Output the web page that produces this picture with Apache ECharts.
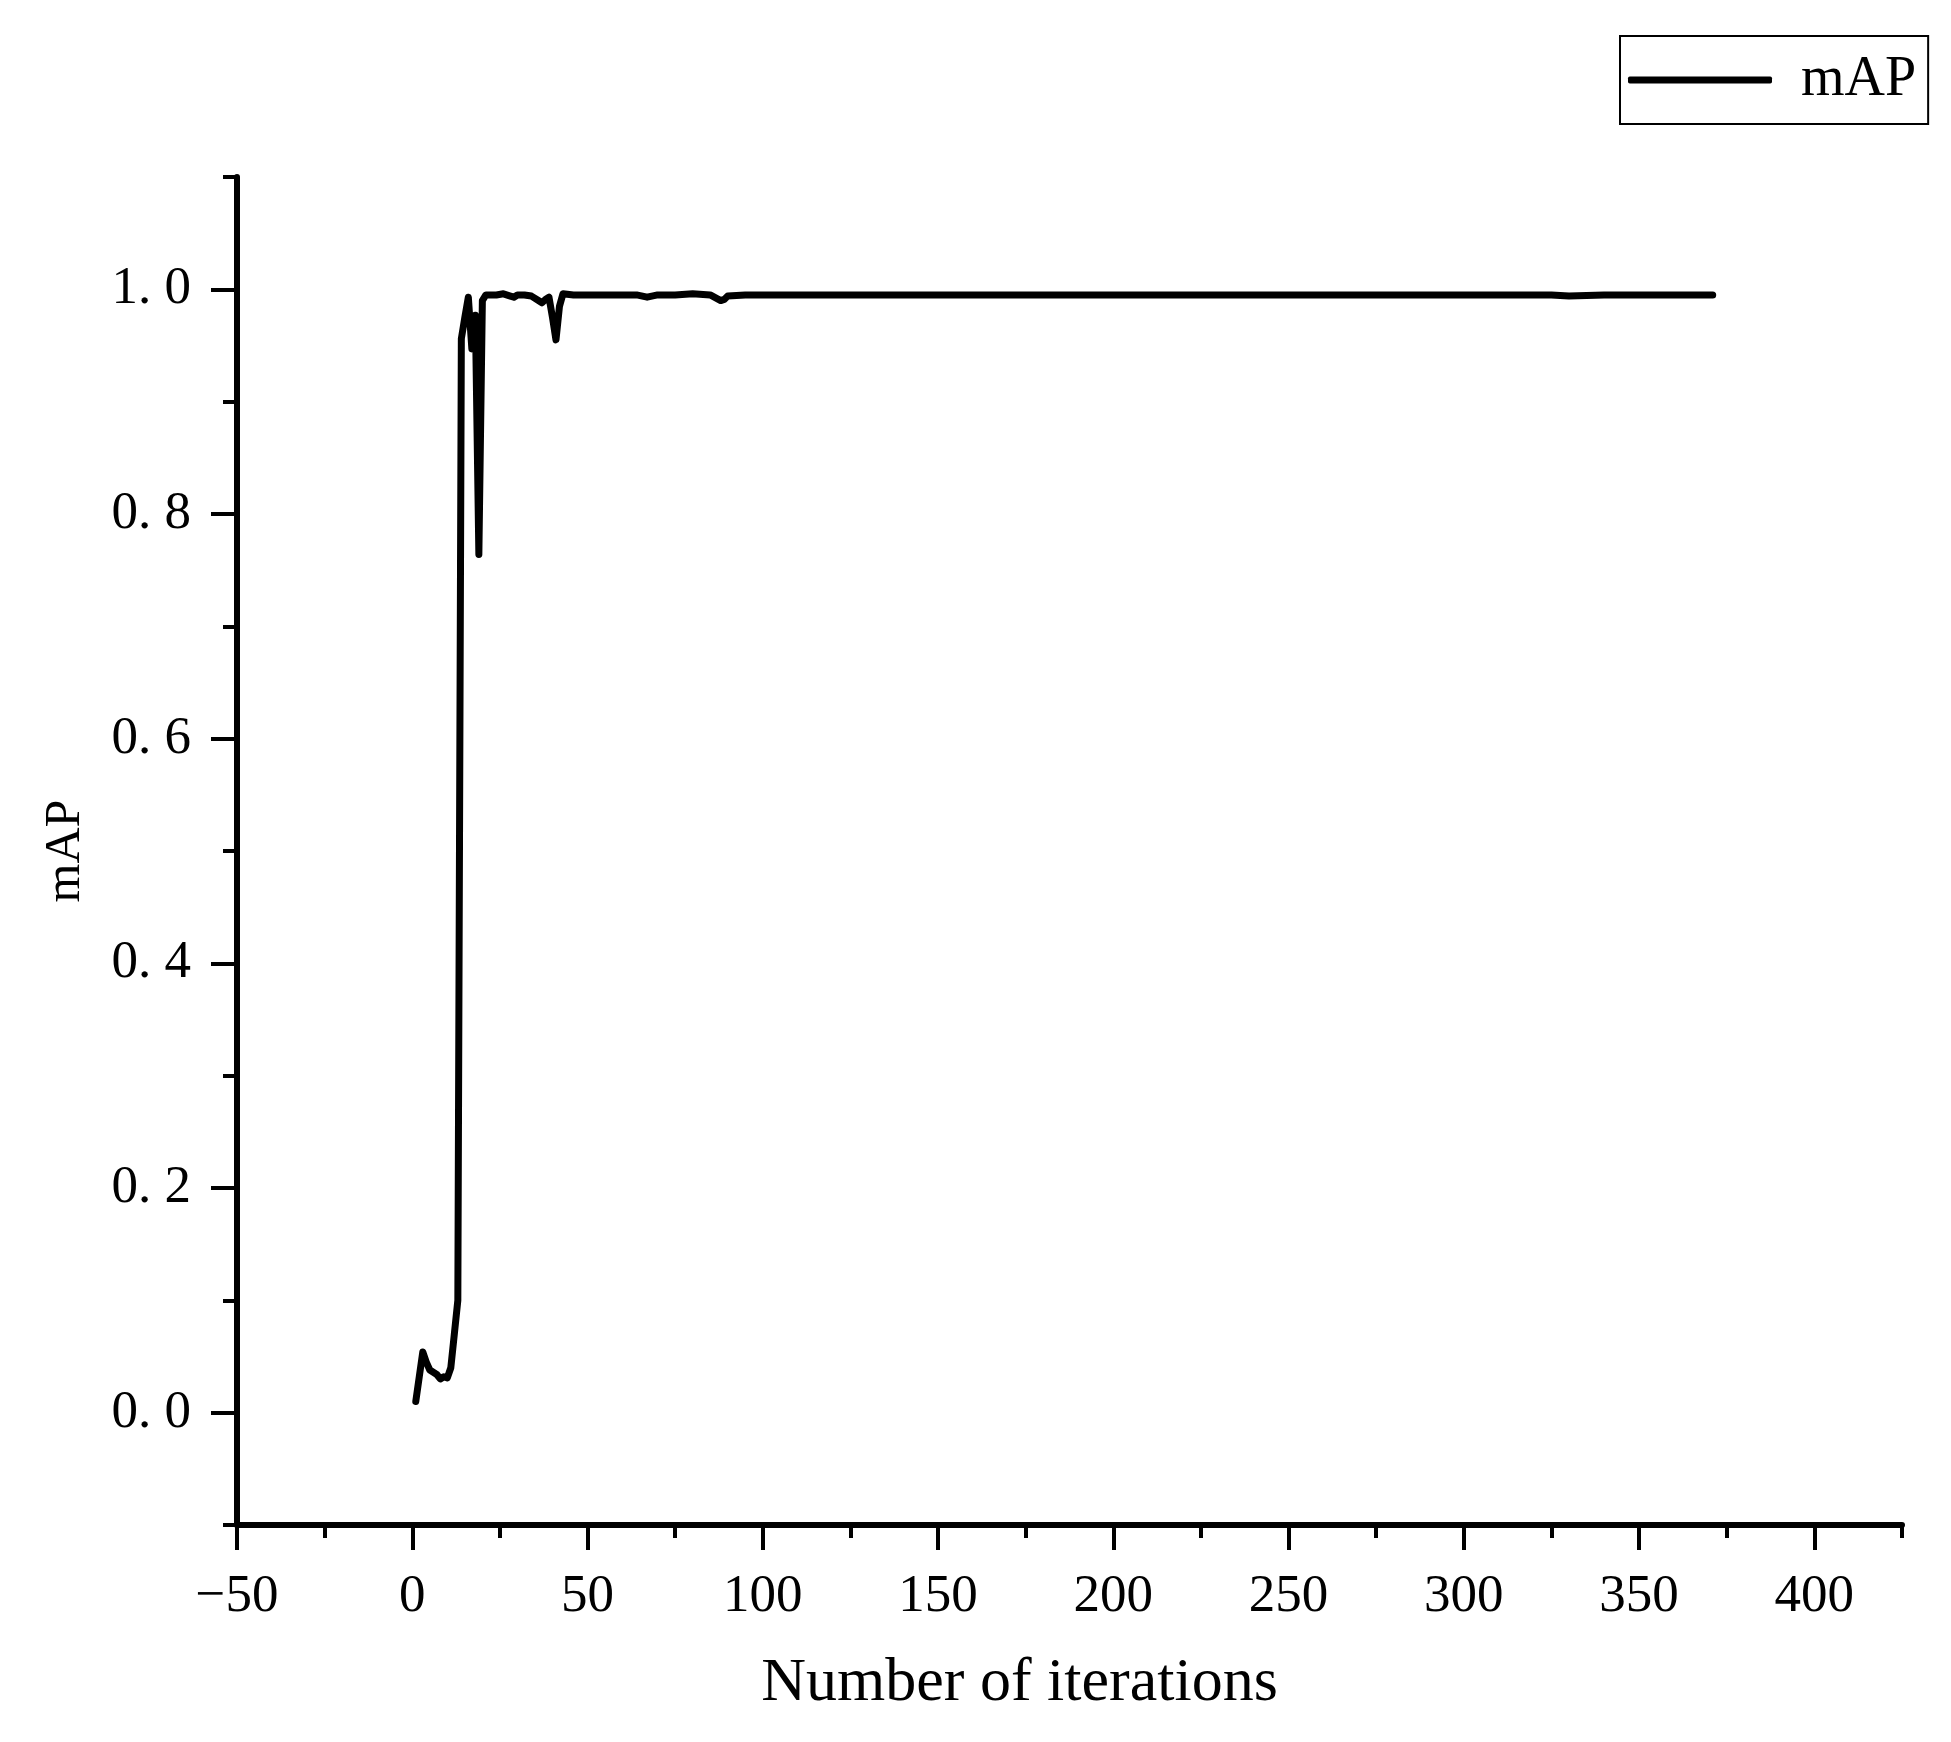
<!DOCTYPE html>
<html>
<head>
<meta charset="utf-8">
<script src="https://cdn.jsdelivr.net/npm/echarts@6/dist/echarts.min.js"></script>
<style>html,body{margin:0;padding:0;background:#fff}#c{width:1951px;height:1742px}</style>
</head>
<body>
<div id="c"></div>
<script>
// iterations and mAP values
var iterations = [1,2,3,4,5,6,7,8,9,10,11,12,13,14,15,16,17,18,19,20,21,22,24,26,28,29,30,32,34,36,37,38,39,40,41,42,43,46,50,55,60,64,67,70,75,80,85,88,89,90,95,100,110,125,140,150,160,175,190,200,215,225,240,250,275,300,325,330,340,350,360,371];
var mapValues = [0.010,0.032,0.054,0.045,0.038,0.036,0.034,0.030,0.032,0.031,0.040,0.070,0.100,0.956,0.975,0.993,0.947,0.977,0.764,0.990,0.995,0.995,0.995,0.996,0.994,0.993,0.995,0.995,0.994,0.990,0.988,0.991,0.993,0.975,0.955,0.985,0.996,0.995,0.995,0.995,0.995,0.995,0.993,0.995,0.995,0.996,0.995,0.990,0.991,0.994,0.995,0.995,0.995,0.995,0.995,0.995,0.995,0.995,0.995,0.995,0.995,0.995,0.995,0.995,0.995,0.995,0.995,0.994,0.995,0.995,0.995,0.995];
var xMajorTicks = [-50,0,50,100,150,200,250,300,350,400];
var xMinorTicks = [-25,25,75,125,175,225,275,325,375,425];
var yMajorTicks = [0,0.2,0.4,0.6,0.8,1.0];
var yMinorTicks = [-0.1,0.1,0.3,0.5,0.7,0.9,1.1];

var seriesData = iterations.map(function(x, i){ return [x, mapValues[i]]; });
var FONT = 'Liberation Serif';
var chart = echarts.init(document.getElementById('c'));
chart.setOption({
  backgroundColor: '#fff',
  animation: false,
  legend: {
    data: [{name: 'mAP', icon: 'roundRect'}],
    left: 1620, top: 36,
    padding: [16, 12, 16, 8],
    itemWidth: 144, itemHeight: 7,
    borderColor: '#000', borderWidth: 2,
    itemStyle: {color: '#000', borderWidth: 0},
    textStyle: {fontFamily: FONT, fontSize: 56, color: '#000', padding: [0,0,0,24]}
  },
  grid: {left: 237, right: 49, top: 177, bottom: 217, containLabel: false},
  xAxis: [{
    type: 'value', min: -50, max: 425, position: 'bottom',
    name: 'Number of iterations', nameLocation: 'middle', nameGap: 128,
    nameTextStyle: {fontFamily: FONT, fontSize: 62, color: '#000', padding: [0,100,0,0]},
    axisLine: {show: true, onZero: false, lineStyle: {color: '#000', width: 6}},
    axisTick: {show: true, customValues: xMajorTicks, length: 25, lineStyle: {color: '#000', width: 4}},
    axisLabel: {customValues: xMajorTicks, margin: 46, fontFamily: FONT, fontSize: 53, color: '#000',
      formatter: function(v){ return v < 0 ? '\u2212' + Math.abs(v) : String(v); }},
    splitLine: {show: false}
  }, {
    type: 'value', min: -50, max: 425, position: 'bottom',
    axisLine: {show: false, onZero: false},
    axisTick: {show: true, customValues: xMinorTicks, length: 13, lineStyle: {color: '#000', width: 4}},
    axisLabel: {show: false},
    splitLine: {show: false}
  }],
  yAxis: [{
    type: 'value', min: -0.1, max: 1.1, position: 'left',
    name: 'mAP', nameLocation: 'middle', nameGap: 146,
    nameTextStyle: {fontFamily: FONT, fontSize: 50, color: '#000'},
    axisLine: {show: true, onZero: false, lineStyle: {color: '#000', width: 6}},
    axisTick: {show: true, customValues: yMajorTicks, length: 26, lineStyle: {color: '#000', width: 4}},
    axisLabel: {customValues: yMajorTicks, margin: 46, fontFamily: FONT, fontSize: 53, color: '#000',
      formatter: function(v){ return v.toFixed(1).replace('.', '. '); }},
    splitLine: {show: false}
  }, {
    type: 'value', min: -0.1, max: 1.1, position: 'left',
    axisLine: {show: false, onZero: false},
    axisTick: {show: true, customValues: yMinorTicks, length: 14, lineStyle: {color: '#000', width: 4}},
    axisLabel: {show: false},
    splitLine: {show: false}
  }],
  series: [{
    name: 'mAP', type: 'line', xAxisIndex: 0, yAxisIndex: 0,
    data: seriesData, symbol: 'none', showSymbol: false,
    lineStyle: {color: '#000', width: 7, cap: 'round', join: 'round'},
    itemStyle: {color: '#000'}
  }]
});
</script>
</body>
</html>
